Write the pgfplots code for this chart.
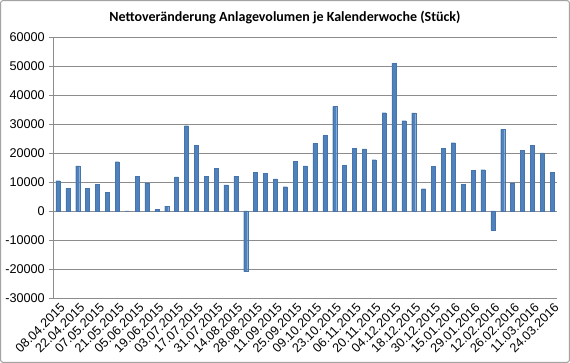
\documentclass[border=0pt]{standalone}
\usepackage{pgfplots}
\pgfplotsset{compat=1.18}
\usepackage{fontspec}
\setmainfont{Liberation Sans}
\newfontfamily\calibri{Carlito}
\definecolor{barblue}{HTML}{4F81BD}
\definecolor{gridgray}{HTML}{8C8C8C}
\begin{document}
\begin{tikzpicture}
\useasboundingbox (-39.75pt,-48.75pt) rectangle (387.75pt,223.5pt);
\draw[gridgray!80, line width=0.8pt, rounded corners=2pt] (-39.35pt,-48.35pt) rectangle (387.35pt,223.1pt);
\node[font=\calibri\bfseries\fontsize{10.5}{12}\selectfont, anchor=center] at (174pt,210.75pt) {Nettoveränderung Anlagevolumen je Kalenderwoche (Stück)};
\begin{axis}[
  at={(0,0)}, anchor=south west,
  scale only axis, width=378pt, height=195.75pt,
  ybar, bar width=3pt,
  xmin=-0.5, xmax=50.5,
  ymin=-30000, ymax=60000,
  ytick={-30000,-20000,...,60000},
  scaled y ticks=false,
  xtick={0,2,...,50},
  xticklabels={08.04.2015,22.04.2015,07.05.2015,21.05.2015,05.06.2015,19.06.2015,03.07.2015,17.07.2015,31.07.2015,14.08.2015,28.08.2015,11.09.2015,25.09.2015,09.10.2015,23.10.2015,06.11.2015,20.11.2015,04.12.2015,18.12.2015,30.12.2015,15.01.2016,29.01.2016,12.02.2016,26.02.2016,11.03.2016,24.03.2016},
  xticklabel style={rotate=45, anchor=south east, font=\fontsize{9.5}{11}\selectfont, inner sep=1pt, xshift=1.5pt, yshift=-9pt},
  yticklabel style={font=\fontsize{9.5}{11}\selectfont, inner sep=1pt, xshift=-2pt},
  /pgf/number format/.cd, 1000 sep={}, assume math mode=true, /pgfplots/.cd,
  major x tick style={draw=none},
  major y tick style={gridgray, line width=0.6pt},
  tick align=outside, major tick length=3pt,
  axis x line*=bottom, axis y line*=left,
  axis line style={gridgray, line width=0.6pt},
  ymajorgrids, grid style={gridgray, line width=0.6pt},
]
\addplot[fill=barblue, draw=barblue!90!black, line width=0.2pt] coordinates {
(0,10450) (1,7900) (2,15600) (3,7900) (4,9300) (5,6400) (6,17000) (7,0) (8,12050) (9,9750)
(10,500) (11,1700) (12,11800) (13,29400) (14,22750) (15,12050) (16,14800) (17,9050) (18,12050) (19,-20900)
(20,13400) (21,12950) (22,11100) (23,8400) (24,17200) (25,15600) (26,23300) (27,26000) (28,36000) (29,15850)
(30,21600) (31,21400) (32,17700) (33,33900) (34,51000) (35,31150) (36,33800) (37,7700) (38,15300) (39,21600)
(40,23550) (41,9300) (42,14000) (43,14250) (44,-6700) (45,28150) (46,9750) (47,20900) (48,22750) (49,20000)
(50,13400)
};
\end{axis}
\end{tikzpicture}
\end{document}
